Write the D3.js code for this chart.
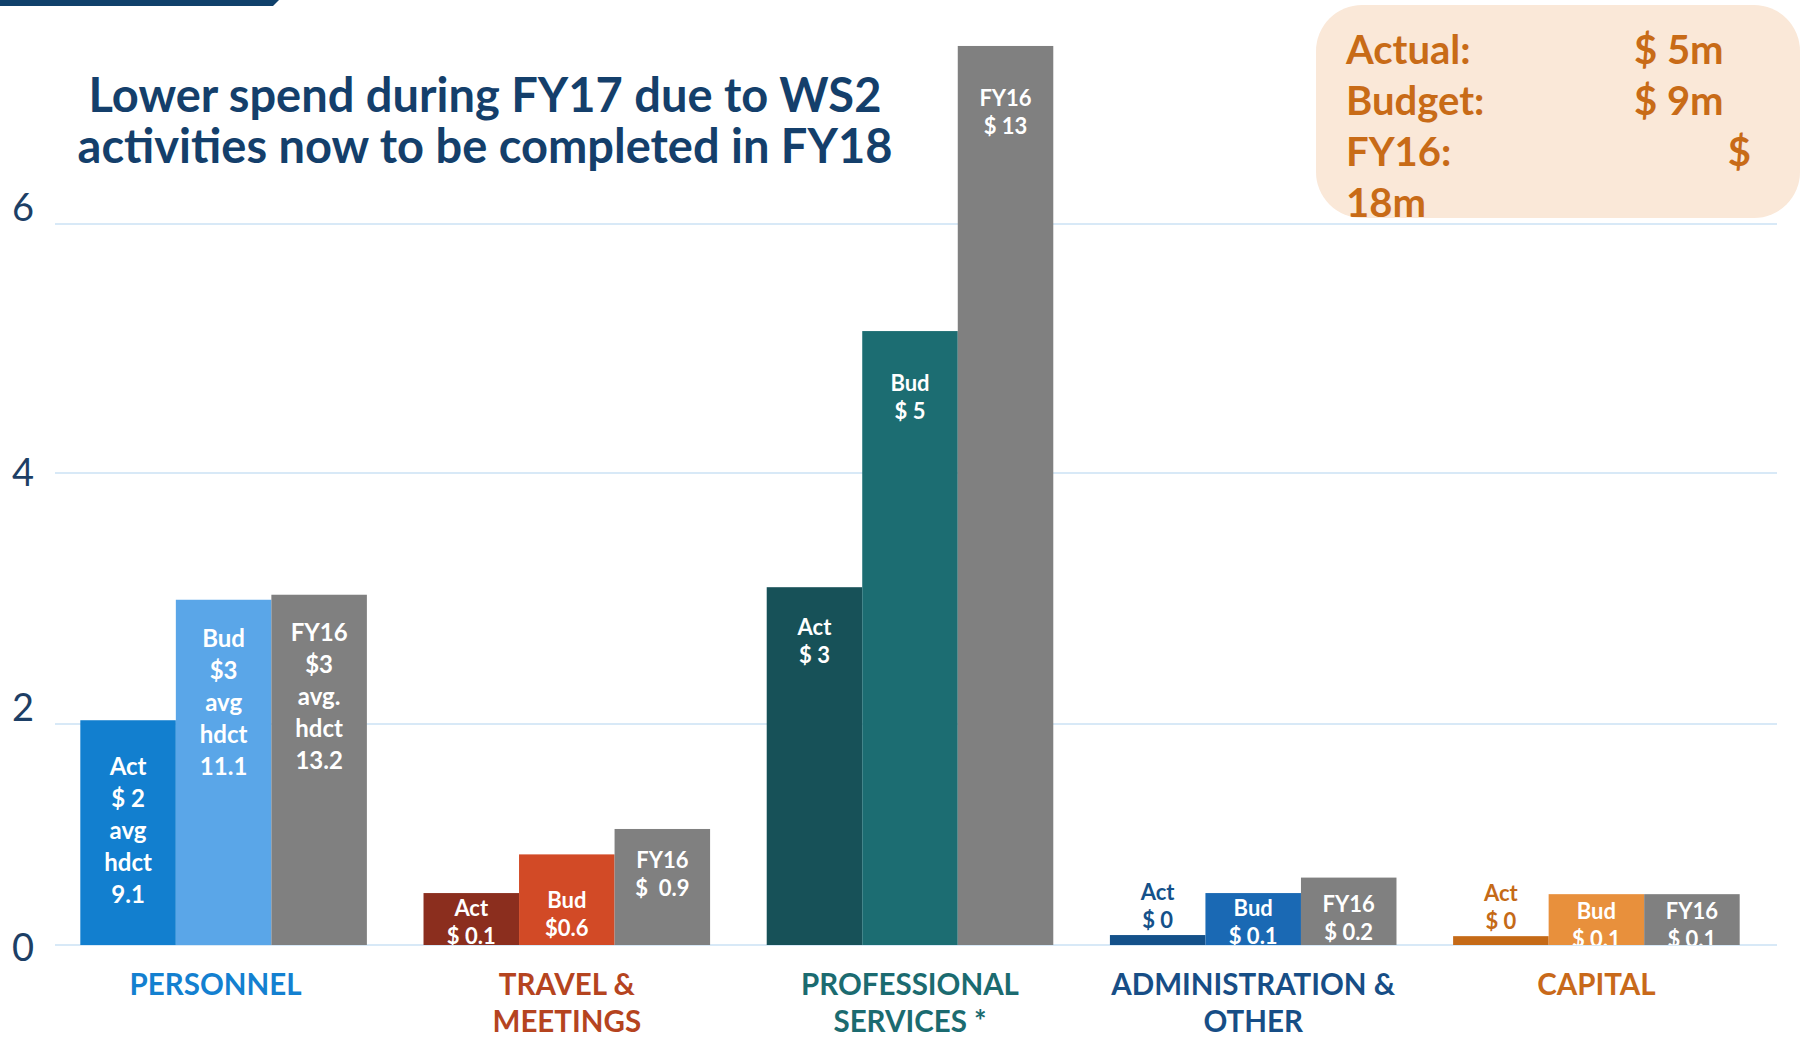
<!DOCTYPE html>
<html>
<head>
<meta charset="utf-8">
<script src="https://cdn.jsdelivr.net/npm/d3@7"></script>
<style>
  html, body { margin: 0; padding: 0; background: #ffffff; }
  svg { display: block; }
  text { font-family: "Lato", "Open Sans", sans-serif; }
</style>
</head>
<body>
<svg id="chart" width="1801" height="1038"></svg>
<script>
// ---------------- DATA ----------------
const categories = ["PERSONNEL", "TRAVEL & MEETINGS", "PROFESSIONAL SERVICES *", "ADMINISTRATION & OTHER", "CAPITAL"];
const categoryLines = [["PERSONNEL"], ["TRAVEL &", "MEETINGS"], ["PROFESSIONAL", "SERVICES *"], ["ADMINISTRATION &", "OTHER"], ["CAPITAL"]];
const seriesNames = ["Act", "Bud", "FY16"];

// bar heights as drawn in the picture (axis units)
const actualValues = [2.03, 0.47, 3.09, 0.09, 0.08];
const budgetValues = [2.99, 0.82, 5.14, 0.47, 0.46];
const fy16Values   = [3.03, 1.05, 7.43, 0.61, 0.46];

// data labels as printed on the bars
const actualLabels = [["Act", "$ 2", "avg", "hdct", "9.1"], ["Act", "$ 0.1"], ["Act", "$ 3"], ["Act", "$ 0"], ["Act", "$ 0"]];
const budgetLabels = [["Bud", "$3", "avg", "hdct", "11.1"], ["Bud", "$0.6"], ["Bud", "$ 5"], ["Bud", "$ 0.1"], ["Bud", "$ 0.1"]];
const fy16Labels   = [["FY16", "$3", "avg.", "hdct", "13.2"], ["FY16", "$  0.9"], ["FY16", "$ 13"], ["FY16", "$ 0.2"], ["FY16", "$ 0.1"]];

const yTicks = [0, 2, 4, 6];
const yTickLabels = ["0", "2", "4", "6"];

const titleLines = ["Lower spend during FY17 due to WS2", "activities now to be completed in FY18"];
const summaryNames = ["Actual:", "Budget:", "FY16:"];
const summaryAmounts = ["$ 5m", "$ 9m", "$ 18m"];

// ---------------- STYLE ----------------
const seriesColors = [
  ["#127fcf", "#5aa6e8", "#808080"],
  ["#8b2e1e", "#d24a26", "#808080"],
  ["#175158", "#1c6d72", "#808080"],
  ["#14518a", "#1a69b4", "#808080"],
  ["#c56a17", "#e8903c", "#808080"]
];
const categoryColors = ["#1380d0", "#b5441f", "#1b6b70", "#174e86", "#c8691a"];
// distance of the first label line below each bar top (px); negative = above the bar
const labelTopPad = [
  [45, 38, 37],
  [14, 45, 31],
  [39, 51, 52],
  [-44, 14, 26],
  [-44, 16, 16]
];

const svg = d3.select("#chart");

// ---------------- SCALES ----------------
const y = d3.scaleLinear().domain([0, 2, 4, 6]).range([945, 724, 473, 224]);
const yLabel = d3.scaleLinear().domain([0, 2, 4, 6]).range([946, 706, 471, 206]);

const x0 = d3.scaleBand().domain(categories).range([52, 1768]).paddingInner(0.165).paddingOuter(0.0825);
const x1 = d3.scaleBand().domain(seriesNames).range([0, x0.bandwidth()]).padding(0);

const rows = categories.map((c, i) => ({
  cat: c, i,
  bars: [
    { s: "Act",  v: actualValues[i], lab: actualLabels[i] },
    { s: "Bud",  v: budgetValues[i], lab: budgetLabels[i] },
    { s: "FY16", v: fy16Values[i],   lab: fy16Labels[i] }
  ]
}));

// ---------------- DECORATION ----------------
svg.append("path")
  .attr("d", "M0,0 L279,0 L273,6 L0,6 Z")
  .attr("fill", "#10416b");

// ---------------- GRID ----------------
const grid = svg.append("g").attr("class", "grid");
grid.selectAll("line").data(yTicks).join("line")
  .attr("x1", 55).attr("x2", 1777)
  .attr("y1", d => y(d)).attr("y2", d => y(d))
  .attr("stroke", "#d8e9f7").attr("stroke-width", 2);

svg.append("g").selectAll("text").data(yTicks).join("text")
  .attr("x", 23).attr("y", d => yLabel(d))
  .attr("text-anchor", "middle").attr("dominant-baseline", "central")
  .attr("font-size", 38).attr("fill", "#1d3f66")
  .text((d, i) => yTickLabels[i]);

// ---------------- TITLE ----------------
svg.append("g").selectAll("text").data(titleLines).join("text")
  .attr("x", 485).attr("y", (d, i) => 112 + i * 51)
  .attr("text-anchor", "middle")
  .attr("font-size", 47).attr("font-weight", 700).attr("fill", "#143f6b")
  .text(d => d);

// ---------------- SUMMARY BOX ----------------
const defs = svg.append("defs");
defs.append("clipPath").attr("id", "boxclip")
  .append("rect").attr("x", 1316).attr("y", 5).attr("width", 520).attr("height", 213).attr("rx", 46);
defs.append("clipPath").attr("id", "plotclip")
  .append("rect").attr("x", 0).attr("y", 0).attr("width", 1801).attr("height", 945);

const box = svg.append("g");
box.append("rect").attr("x", 1316).attr("y", 5).attr("width", 484).attr("height", 213).attr("rx", 46)
  .attr("fill", "#fae8d8");
const boxText = box.append("g").attr("clip-path", "url(#boxclip)")
  .attr("font-size", 40).attr("font-weight", 700).attr("fill", "#c86b17");
summaryNames.forEach((n, i) => {
  boxText.append("text").attr("x", 1346).attr("y", 64 + i * 51).text(n);
});
boxText.append("text").attr("x", 1634).attr("y", 64).text(summaryAmounts[0]);
boxText.append("text").attr("x", 1634).attr("y", 115).text(summaryAmounts[1]);
const fyParts = summaryAmounts[2].split(" ");
boxText.append("text").attr("x", 1751).attr("y", 166).attr("text-anchor", "end").text(fyParts[0]);
boxText.append("text").attr("x", 1346).attr("y", 217).text(fyParts[1]);

// ---------------- BARS ----------------
const plot = svg.append("g");
const groups = plot.selectAll("g.cat").data(rows).join("g")
  .attr("class", "cat")
  .attr("transform", d => `translate(${x0(d.cat)},0)`);

groups.selectAll("rect").data(d => d.bars.map((b, j) => ({ ...b, i: d.i, j }))).join("rect")
  .attr("x", d => x1(d.s))
  .attr("width", x1.bandwidth())
  .attr("y", d => y(d.v))
  .attr("height", d => y(0) - y(d.v))
  .attr("fill", d => seriesColors[d.i][d.j]);

// bar labels
const labG = plot.append("g").attr("clip-path", "url(#plotclip)");
rows.forEach(r => {
  r.bars.forEach((b, j) => {
    const big = b.lab.length > 2;
    const fs = big ? 24 : 22;
    const lh = big ? 32 : 28;
    const pad = labelTopPad[r.i][j];
    const above = pad < 0;
    const cx = x0(r.cat) + x1(b.s) + x1.bandwidth() / 2;
    const top = y(b.v);
    b.lab.forEach((t, k) => {
      labG.append("text")
        .attr("x", cx)
        .attr("y", top + pad + k * lh)
        .attr("text-anchor", "middle").attr("dominant-baseline", "central")
        .attr("font-size", fs).attr("font-weight", 700)
        .attr("fill", above ? seriesColors[r.i][0] : "#ffffff")
        .style("white-space", "pre")
        .text(t);
    });
  });
});

// ---------------- CATEGORY LABELS ----------------
const catG = svg.append("g");
rows.forEach(r => {
  categoryLines[r.i].forEach((t, k) => {
    catG.append("text")
      .attr("x", x0(r.cat) + x0.bandwidth() / 2 - (r.i === 0 ? 8 : 0))
      .attr("y", 983 + k * 37)
      .attr("text-anchor", "middle").attr("dominant-baseline", "central")
      .attr("font-size", 29.5).attr("font-weight", 700)
      .attr("fill", categoryColors[r.i])
      .text(t);
  });
});
</script>
</body>
</html>
